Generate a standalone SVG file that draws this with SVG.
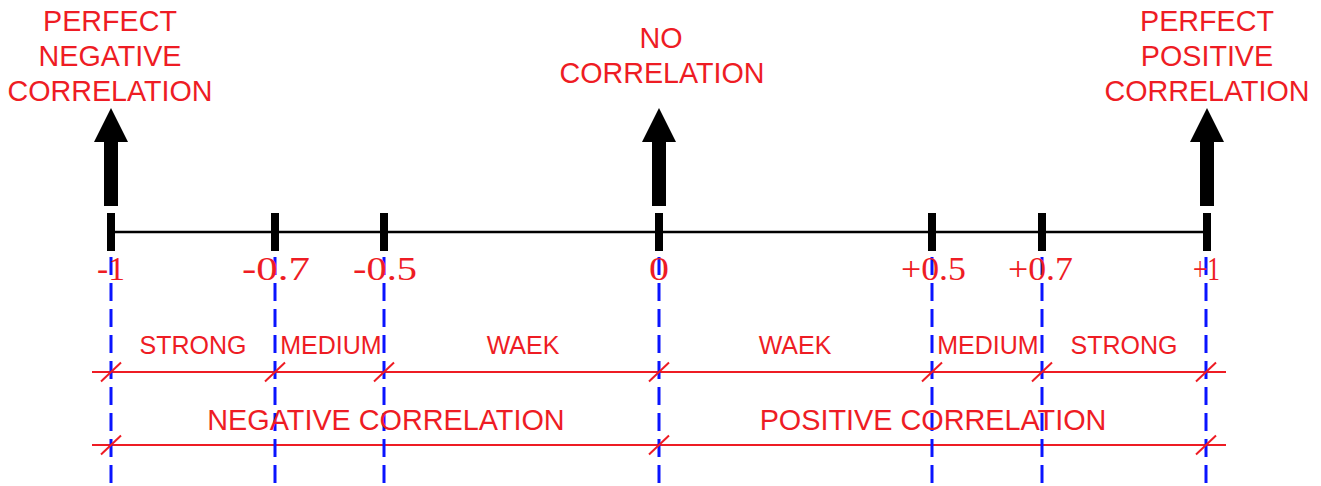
<svg xmlns="http://www.w3.org/2000/svg" xmlns:xlink="http://www.w3.org/1999/xlink" width="1321" height="486" viewBox="0 0 1321 486">
<style>
.lbl{font-family:"Liberation Sans",Arial,sans-serif;fill:#ee1c24;text-anchor:middle}
.big{font-size:28.7px}
.mid{font-size:25px}
.row2{font-size:28.8px}
.num{font-family:"Liberation Serif","Times New Roman",serif;font-size:34px;fill:#ee1c24}
.axis{stroke:#000;stroke-width:2.5;fill:none}
.blue{stroke:#0a14ff;stroke-width:3;stroke-dasharray:18 8;fill:none}
.red{stroke:#ee1c24;stroke-width:2.2;fill:none}
</style>
<defs>
<path id="arrow" d="M0,108 L-17,142 L-7,142 L-7,206 L7,206 L7,142 L17,142 Z" fill="#000"/>
<rect id="tk" x="-4" y="213" width="8" height="38" fill="#000"/>
<line id="sl" x1="-10" y1="9.5" x2="10" y2="-9.5" stroke="#ee1c24" stroke-width="2"/>
</defs>
<rect width="1321" height="486" fill="#fff"/>
<g id="connectors">
<line class="axis" x1="111" y1="232" x2="1206" y2="232"/>
<line class="red" x1="92" y1="372" x2="1226" y2="372"/>
<line class="red" x1="92" y1="445" x2="1226" y2="445"/>
<line class="blue" x1="111" y1="257" x2="111" y2="486"/>
<line class="blue" x1="275" y1="257" x2="275" y2="486"/>
<line class="blue" x1="384" y1="257" x2="384" y2="486"/>
<line class="blue" x1="659" y1="257" x2="659" y2="486"/>
<line class="blue" x1="932" y1="257" x2="932" y2="486"/>
<line class="blue" x1="1042" y1="257" x2="1042" y2="486"/>
<line class="blue" x1="1206" y1="257" x2="1206" y2="486"/>
<use href="#sl" x="111" y="372"/>
<use href="#sl" x="275" y="372"/>
<use href="#sl" x="384" y="372"/>
<use href="#sl" x="659" y="372"/>
<use href="#sl" x="932" y="372"/>
<use href="#sl" x="1042" y="372"/>
<use href="#sl" x="1206" y="372"/>
<use href="#sl" x="111" y="445"/>
<use href="#sl" x="659" y="445"/>
<use href="#sl" x="1206" y="445"/>
</g>
<g id="node-neg1">
<use href="#arrow" x="111"/>
<use href="#tk" x="111"/>
<text class="lbl big" x="110" y="31">PERFECT</text>
<text class="lbl big" x="110" y="66">NEGATIVE</text>
<text class="lbl big" x="110" y="101">CORRELATION</text>
<text class="num" x="97" y="280" textLength="28" lengthAdjust="spacingAndGlyphs">-1</text>
</g>
<g id="node-neg07">
<use href="#tk" x="275"/>
<text class="num" x="242" y="280" textLength="68" lengthAdjust="spacingAndGlyphs">-0.7</text>
</g>
<g id="node-neg05">
<use href="#tk" x="384"/>
<text class="num" x="353" y="280" textLength="64" lengthAdjust="spacingAndGlyphs">-0.5</text>
</g>
<g id="node-zero">
<use href="#arrow" x="659"/>
<use href="#tk" x="659"/>
<text class="lbl big" x="661" y="48">NO</text>
<text class="lbl big" x="662" y="83">CORRELATION</text>
<text class="num" x="649" y="280" textLength="20" lengthAdjust="spacingAndGlyphs">0</text>
</g>
<g id="node-pos05">
<use href="#tk" x="932"/>
<text class="num" x="901" y="280" textLength="65" lengthAdjust="spacingAndGlyphs">+0.5</text>
</g>
<g id="node-pos07">
<use href="#tk" x="1042"/>
<text class="num" x="1008" y="280" textLength="65" lengthAdjust="spacingAndGlyphs">+0.7</text>
</g>
<g id="node-pos1">
<use href="#arrow" x="1207"/>
<use href="#tk" x="1207"/>
<text class="lbl big" x="1207" y="31">PERFECT</text>
<text class="lbl big" x="1207" y="66">POSITIVE</text>
<text class="lbl big" x="1207" y="101">CORRELATION</text>
<text class="num" x="1193" y="280" textLength="27" lengthAdjust="spacingAndGlyphs">+1</text>
</g>
<g id="ranges">
<text class="lbl mid" x="193" y="354">STRONG</text>
<text class="lbl mid" x="331" y="354">MEDIUM</text>
<text class="lbl mid" x="523" y="354">WAEK</text>
<text class="lbl mid" x="795" y="354">WAEK</text>
<text class="lbl mid" x="988" y="354">MEDIUM</text>
<text class="lbl mid" x="1124" y="354">STRONG</text>
<text class="lbl row2" x="386" y="430">NEGATIVE CORRELATION</text>
<text class="lbl row2" x="933" y="430">POSITIVE CORRELATION</text>
</g>
</svg>
